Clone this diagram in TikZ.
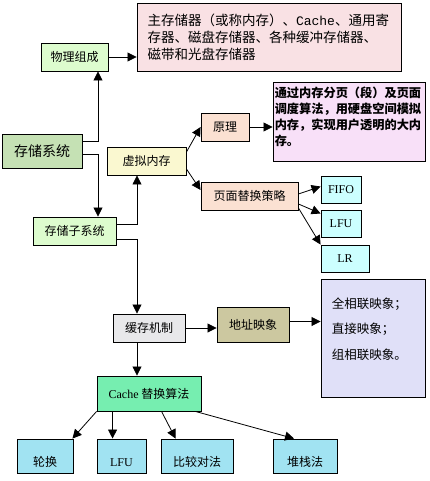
\documentclass[tikz,border=0pt]{standalone}
\usepackage{fontspec}
\setmainfont{Liberation Serif}
\newfontfamily\cjk{Noto Sans CJK SC}
\newfontfamily\latinmono{Liberation Mono}
\usetikzlibrary{arrows.meta,calc}

\definecolor{paleGreen}{RGB}{221,252,206}
\definecolor{sysGreen}{RGB}{197,225,180}
\definecolor{memPink}{RGB}{249,225,228}
\definecolor{paleYellow}{RGB}{250,248,208}
\definecolor{peach}{RGB}{251,225,210}
\definecolor{notePink}{RGB}{248,224,248}
\definecolor{paleCyan}{RGB}{204,255,255}
\definecolor{paleGray}{RGB}{232,232,234}
\definecolor{khaki}{RGB}{204,200,160}
\definecolor{lavender}{RGB}{224,224,248}
\definecolor{algGreen}{RGB}{118,238,176}
\definecolor{skyBlue}{RGB}{161,227,242}

\tikzset{
    box/.style={draw=black, line width=0.9pt, rectangle, inner sep=0pt, font=\cjk\fontsize{12}{14}\selectfont},
    latin/.style={font=\rmfamily\fontsize{12}{14}\selectfont},
    lowtext/.style={text height=20pt, text depth=0pt},
    arr/.style={draw=black, line width=0.8pt, -{Triangle[length=9pt,width=9pt]}},
}

\begin{document}
\begin{tikzpicture}[x=1pt, y=-1pt]
    \fill[white] (0,0) rectangle (429,481);
    \useasboundingbox (0,0) rectangle (429,481);

    \node[box, fill=paleGreen, minimum width=67pt, minimum height=28pt] (phy) at (74.5,57) {物理组成};
    \node[box, fill=memPink, minimum width=264pt, minimum height=68pt, text width=243pt, align=left, font=\cjk\fontsize{13.5}{17}\selectfont] (mem) at (269,37) {主存储器（或称内存）、{\latinmono\fontsize{13}{17}\selectfont Cache}、通用寄\\存器、磁盘存储器、各种缓冲存储器、\\磁带和光盘存储器};
    \node[box, fill=sysGreen, minimum width=80pt, minimum height=34pt, font=\cjk\fontsize{14}{16}\selectfont] (sys) at (42,151) {存储系统};
    \node[box, fill=paleGreen, minimum width=83pt, minimum height=28pt] (sub) at (74.5,231) {存储子系统};
    \node[box, fill=paleYellow, minimum width=79pt, minimum height=28pt] (virt) at (146.5,161) {虚拟内存};
    \node[box, fill=peach, minimum width=48pt, minimum height=28pt] (prin) at (225,127) {原理};
    \node[box, fill=peach, minimum width=97pt, minimum height=28pt] (page) at (249.5,196) {页面替换策略};
    \node[box, fill=notePink, minimum width=152pt, minimum height=79pt] (note) at (349,121.5) {};
    \node[anchor=north west, inner sep=0pt, align=left, font=\cjk\bfseries\fontsize{12.2}{16.2}\selectfont] (notetext) at ($(note.north west)+(2,5)$) {通过内存分页（段）及页面\\调度算法，用硬盘空间模拟\\内存，实现用户透明的大内\\存。};
    \node[box, latin, fill=paleCyan, minimum width=40pt, minimum height=27pt] (fifo) at (341,189.5) {FIFO};
    \node[box, latin, fill=paleCyan, minimum width=40pt, minimum height=27pt] (lfu) at (341,223.5) {LFU};
    \node[box, latin, fill=paleCyan, minimum width=48pt, minimum height=27pt] (lr) at (345,258.5) {LR};
    \node[box, fill=paleGray, minimum width=72pt, minimum height=28pt] (cache) at (149,328) {缓存机制};
    \node[box, fill=khaki, minimum width=72pt, minimum height=35pt] (addr) at (253,324.5) {地址映象};
    \node[box, fill=lavender, minimum width=104pt, minimum height=118pt] (map) at (373,338) {};
    \node[anchor=north west, inner sep=0pt, align=left, font=\cjk\fontsize{12.5}{25.5}\selectfont] (maptext) at ($(map.north west)+(11,19)$) {全相联映象；\\直接映象；\\组相联映象。};
    \node[box, fill=algGreen, minimum width=104pt, minimum height=35pt] (alg) at (149,393.5) {{\rmfamily Cache} 替换算法};
    \node[box, lowtext, fill=skyBlue, minimum width=56pt, minimum height=34pt] (rot) at (45,456) {轮换};
    \node[box, latin, lowtext, fill=skyBlue, minimum width=49pt, minimum height=34pt] (lfutwo) at (121.5,456) {LFU};
    \node[box, lowtext, fill=skyBlue, minimum width=72pt, minimum height=34pt] (cmp) at (197,456) {比较对法};
    \node[box, lowtext, fill=skyBlue, minimum width=64pt, minimum height=34pt] (stk) at (305,456) {堆栈法};

    \coordinate (addrout) at ($(addr.east)+(0,-3)$);

    \draw[arr] (phy.east) -- (phy.east -| mem.west);
    \draw[arr] ($(sys.east)+(0,-10)$) -| ($(phy.south)+(23.5,0)$);
    \draw[arr] ($(sys.east)+(0,3)$) -| ($(sub.north)+(23.5,0)$);
    \draw[arr] ($(sub.east)+(0,-7)$) -| ($(virt.south)+(-9.5,0)$);
    \draw[arr] ($(sub.east)+(0,8)$) -| ($(cache.north)+(-12,0)$);
    \draw[arr] ($(virt.east)+(0,-9)$) -- (prin.west);
    \draw[arr] ($(virt.east)+(0,8)$) -- ($(page.west)+(0,-6)$);
    \draw[arr] (prin.east) -- (prin.east -| note.west);
    \draw[arr] ($(page.east)+(0,-2)$) -- ($(fifo.west)+(0,-3)$);
    \draw[arr] ($(page.east)+(0,8)$) -- ($(lfu.west)+(0,-10)$);
    \draw[arr] ($(page.east)+(0,12)$) -- (lr.north west);
    \draw[arr] (cache.east) -- (cache.east -| addr.west);
    \draw[arr] (addrout) -- (addrout -| map.west);
    \draw[arr] ($(cache.south)+(-12,0)$) -- ($(alg.north)+(-12,0)$);
    \draw[arr] (alg.south west) -- ($(rot.north east)+(-1,0)$);
    \draw[arr] ($(alg.south west)+(16,0)$) -- ($(lfutwo.north west)+(16,0)$);
    \draw[arr] ($(alg.south west)+(65,0)$) -- ($(cmp.north west)+(15,0)$);
    \draw[arr] ($(alg.south east)+(-6,0)$) -- ($(stk.north)+(-11,0)$);
\end{tikzpicture}
\end{document}
